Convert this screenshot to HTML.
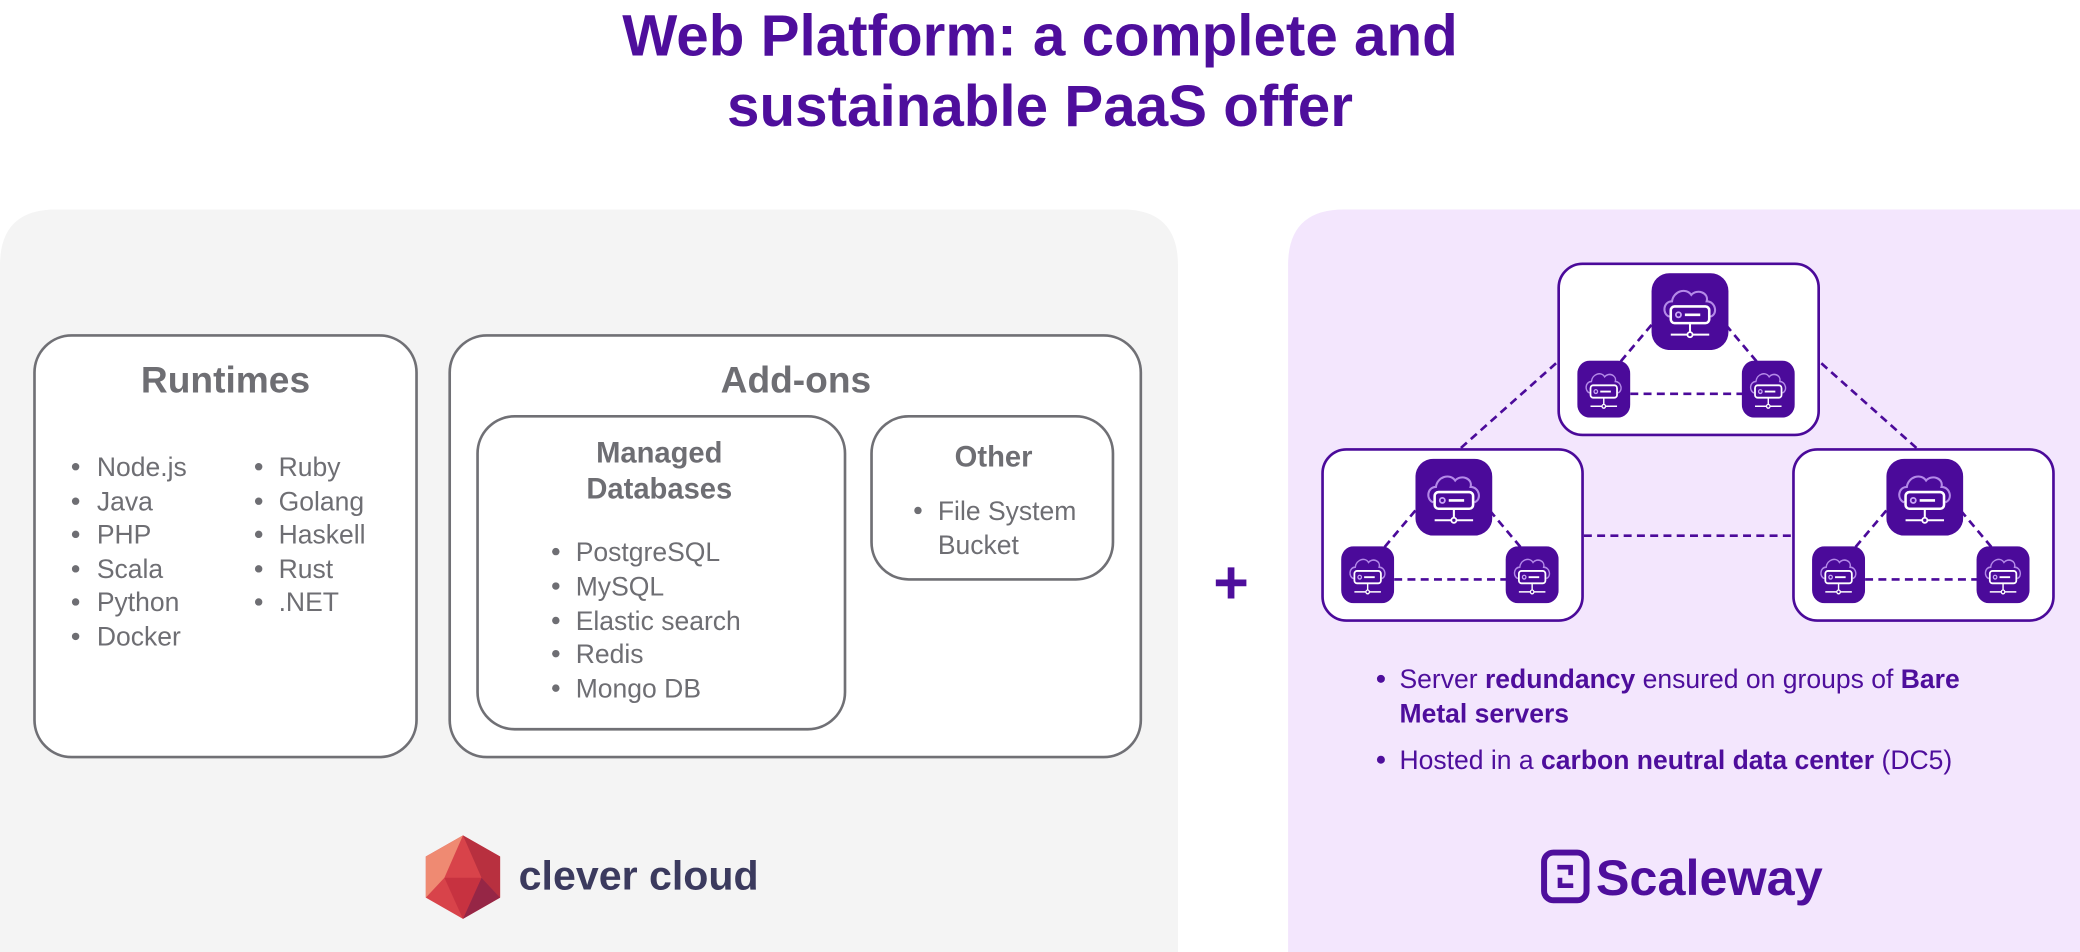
<!DOCTYPE html>
<html><head><meta charset="utf-8"><style>
html,body{margin:0;padding:0;background:#fff;overflow:hidden;width:2080px;height:952px}
svg{display:block;position:absolute;left:0;top:0}
text{font-family:"Liberation Sans",sans-serif}
</style></head><body>
<svg width="2080" height="952" viewBox="0 0 1568 718" preserveAspectRatio="none" xmlns="http://www.w3.org/2000/svg">
<defs>
<symbol id="ic" viewBox="0 0 60 60" preserveAspectRatio="none">
<rect x="0" y="0" width="60" height="60" rx="14" fill="#4b0a9a"/>
<path d="M14 34 C8 32 9 22 16 22 C17 14 27 11 31 17 C35 12 45 15 43 22 C50 22 52 32 46 34" fill="none" stroke="#b48ae8" stroke-width="1.6"/>
<rect x="15" y="26" width="30" height="13" rx="3" fill="#4b0a9a" stroke="#fff" stroke-width="2"/>
<circle cx="21" cy="32.5" r="2" fill="none" stroke="#c9a6f5" stroke-width="1.4"/>
<line x1="26" y1="32.5" x2="38" y2="32.5" stroke="#fff" stroke-width="2"/>
<line x1="30" y1="39" x2="30" y2="48" stroke="#fff" stroke-width="1.6"/>
<line x1="15" y1="48" x2="45" y2="48" stroke="#fff" stroke-width="1.6"/>
<circle cx="30" cy="48" r="2" fill="#4b0a9a" stroke="#fff" stroke-width="1.4"/>
</symbol>
<g id="cl">
<rect x="0" y="0" width="196" height="129" rx="18" fill="#fff" stroke="#4b0a9a" stroke-width="2"/>
<g stroke="#4b0a9a" stroke-width="2" stroke-dasharray="6,4" fill="none">
<line x1="70" y1="46" x2="38" y2="84"/><line x1="126" y1="46" x2="158" y2="84"/>
<line x1="54" y1="98" x2="140" y2="98"/>
</g>
<use href="#ic" x="70" y="7" width="58" height="58"/>
<use href="#ic" x="14" y="73" width="40" height="43"/>
<use href="#ic" x="138" y="73" width="40" height="43"/>
</g>
</defs>
<text x="784" y="42" text-anchor="middle" font-size="44" font-weight="bold" fill="#4e0e9c">Web Platform: a complete and</text>
<text x="784" y="95" text-anchor="middle" font-size="44" font-weight="bold" fill="#4e0e9c">sustainable PaaS offer</text>

<path d="M0 200 Q0 158 42 158 H846 Q888 158 888 200 V718 H0 Z" fill="#f4f4f4"/>
<path d="M971 200 Q971 158 1013 158 H1568 V718 H971 Z" fill="#f3e6fd"/>

<g fill="#fff" stroke="#707075" stroke-width="2">
<rect x="26" y="253" width="288" height="318" rx="28"/>
<rect x="339" y="253" width="521" height="318" rx="28"/>
<rect x="360" y="314" width="277" height="236" rx="28"/>
<rect x="657" y="314" width="182" height="123" rx="28"/>
</g>
<g fill="#6e6e73">
<text x="170" y="296" text-anchor="middle" font-size="28" font-weight="bold">Runtimes</text>
<text x="600" y="296" text-anchor="middle" font-size="28" font-weight="bold">Add-ons</text>
<text x="497" y="349" text-anchor="middle" font-size="22" font-weight="bold">Managed</text>
<text x="497" y="376" text-anchor="middle" font-size="22" font-weight="bold">Databases</text>
<text x="749" y="352" text-anchor="middle" font-size="22" font-weight="bold">Other</text>
<g font-size="20">
<text x="73" y="359">Node.js</text><text x="73" y="385">Java</text><text x="73" y="410">PHP</text><text x="73" y="436">Scala</text><text x="73" y="461">Python</text><text x="73" y="487">Docker</text>
<text x="210" y="359">Ruby</text><text x="210" y="385">Golang</text><text x="210" y="410">Haskell</text><text x="210" y="436">Rust</text><text x="210" y="461">.NET</text>
<text x="434" y="423">PostgreSQL</text><text x="434" y="449">MySQL</text><text x="434" y="475">Elastic search</text><text x="434" y="500">Redis</text><text x="434" y="526">Mongo DB</text>
<text x="707" y="392">File System</text><text x="707" y="418">Bucket</text>
</g>
<g>
<circle cx="57" cy="352" r="2.8"/><circle cx="57" cy="378" r="2.8"/><circle cx="57" cy="403" r="2.8"/><circle cx="57" cy="429" r="2.8"/><circle cx="57" cy="454" r="2.8"/><circle cx="57" cy="480" r="2.8"/>
<circle cx="195" cy="352" r="2.8"/><circle cx="195" cy="378" r="2.8"/><circle cx="195" cy="403" r="2.8"/><circle cx="195" cy="429" r="2.8"/><circle cx="195" cy="454" r="2.8"/>
<circle cx="419" cy="416" r="2.8"/><circle cx="419" cy="442" r="2.8"/><circle cx="419" cy="468" r="2.8"/><circle cx="419" cy="493" r="2.8"/><circle cx="419" cy="519" r="2.8"/>
<circle cx="692" cy="385" r="2.8"/>
</g>
</g>

<text x="928" y="455" text-anchor="middle" font-size="46" font-weight="bold" fill="#4e0e9c">+</text>

<g stroke="#4b0a9a" stroke-width="2" stroke-dasharray="6,4" fill="none">
<line x1="1173" y1="274" x2="1100" y2="339"/>
<line x1="1373" y1="274" x2="1446" y2="339"/>
<line x1="1194" y1="404" x2="1352" y2="404"/>
</g>
<use href="#cl" x="1175" y="199"/>
<use href="#cl" x="997" y="339"/>
<use href="#cl" x="1352" y="339"/>

<g font-size="20" fill="#4e0e9c">
<circle cx="1041" cy="512" r="3"/><circle cx="1041" cy="573" r="3"/>
<text x="1055" y="519">Server <tspan font-weight="bold">redundancy</tspan> ensured on groups of <tspan font-weight="bold">Bare</tspan></text>
<text x="1055" y="545" font-weight="bold">Metal servers</text>
<text x="1055" y="580">Hosted in a <tspan font-weight="bold">carbon neutral data center</tspan> (DC5)</text>
</g>

<g>
<polygon points="349,630 377,646 377,677 349,693 321,677 321,646" fill="#d8434a"/>
<polygon points="349,630 321,646 321,677 335,662" fill="#ef8a72"/>
<polygon points="349,630 377,646 377,677 363,662" fill="#b8303f"/>
<polygon points="335,662 363,662 349,693" fill="#c73240"/>
<polygon points="363,662 377,677 349,693" fill="#962646"/>
</g>
<text x="391" y="671" font-size="31" font-weight="bold" fill="#3b3a5e">clever cloud</text>

<rect x="1164" y="643" width="32" height="36" rx="7" fill="none" stroke="#4e0e9c" stroke-width="4.5"/>
<path d="M1174 654 h10 v6 M1186 668 h-10 v-6" fill="none" stroke="#4e0e9c" stroke-width="3.5"/>
<text x="1203" y="675" font-size="38" font-weight="bold" fill="#4e0e9c">Scaleway</text>
</svg>
</body></html>
